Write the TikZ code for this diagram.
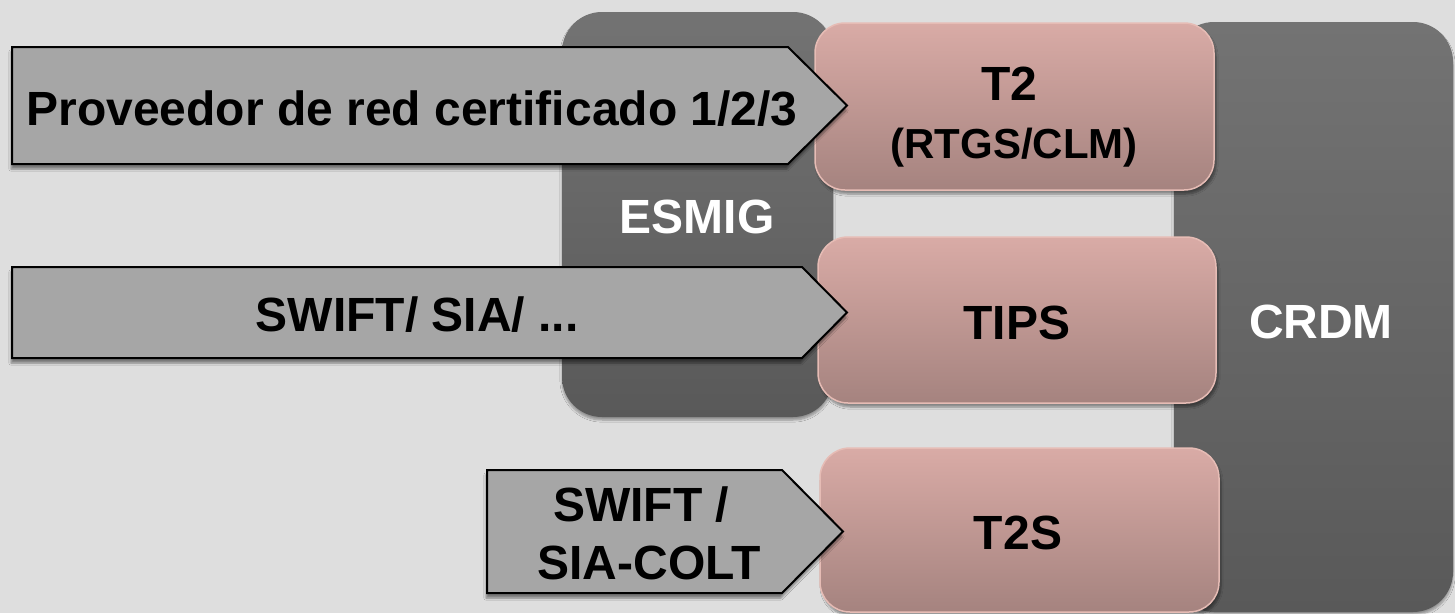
\documentclass[tikz,border=0pt]{standalone}
\usepackage{fontspec}
\setmainfont{Liberation Sans}
\usetikzlibrary{shadows.blur}
\definecolor{bgc}{HTML}{DEDEDE}
\definecolor{darktop}{HTML}{737373}
\definecolor{darkbot}{HTML}{595959}
\definecolor{pinktop}{HTML}{D9ABA6}
\definecolor{pinkbot}{HTML}{A5837F}
\definecolor{pinkline}{HTML}{E6BCB5}
\definecolor{arrowfill}{HTML}{A6A6A6}
\begin{document}
\begin{tikzpicture}[x=1pt,y=-1pt,
  bigfont/.style={font=\bfseries\fontsize{48}{58}\selectfont},
  darkbox/.style={rounded corners=40pt, top color=darktop, bottom color=darkbot, draw=none,
    inner sep=0pt, blur shadow={shadow xshift=0pt, shadow yshift=-3pt, shadow opacity=35, shadow blur steps=6}},
  pinkbox/.style={rounded corners=30pt, top color=pinktop, bottom color=pinkbot, draw=pinkline, line width=1.5pt,
    inner sep=0pt, blur shadow={shadow xshift=2pt, shadow yshift=-4pt, shadow opacity=40, shadow blur steps=6}},
  arrowshape/.style={fill=arrowfill, draw=black, line width=2pt, line join=miter,
    blur shadow={shadow xshift=-1pt, shadow yshift=-5pt, shadow opacity=45, shadow blur steps=6}},
  whitetext/.style={bigfont, text=white, inner sep=0pt, anchor=base},
  blacktext/.style={bigfont, text=black, inner sep=0pt, anchor=base}
]
\fill[bgc] (0,0) rectangle (1455,613);
\useasboundingbox (0,0) rectangle (1455,613);

% dark containers
\node[darkbox, minimum width=271pt, minimum height=405pt] (esmig) at (697.5,214.5) {};
\node[darkbox, minimum width=279pt, minimum height=590pt] (crdm) at (1313.5,317) {};
\node[whitetext] (esmiglabel) at (697,233) {ESMIG};
\node[whitetext] (crdmlabel) at (1321,338) {CRDM};

% pink service boxes
\node[pinkbox, minimum width=399pt, minimum height=167pt] (t2) at (1014.5,106.5) {};
\node[pinkbox, minimum width=398pt, minimum height=166pt] (tips) at (1017,320) {};
\node[pinkbox, minimum width=399pt, minimum height=164pt] (t2s) at (1019.5,530) {};
\node[blacktext] (t2label) at (1009,100) {T2};
\node[blacktext, font=\bfseries\fontsize{42}{50}\selectfont] (t2sub) at (1014,158) {(RTGS/CLM)};
\node[blacktext] (tipslabel) at (1017,339) {TIPS};
\node[blacktext] (t2slabel) at (1018,549) {T2S};

% network arrows
\draw[arrowshape] (12,47) -- (788,47) -- (847,105.5) -- (788,164) -- (12,164) -- cycle;
\draw[arrowshape] (12,267) -- (802,267) -- (847,312.5) -- (802,358) -- (12,358) -- cycle;
\draw[arrowshape] (487,470) -- (782,470) -- (843,531.5) -- (782,593) -- (487,593) -- cycle;
\node[blacktext] (prov) at (412,125) {Proveedor de red certificado 1/2/3};
\node[blacktext] (swift) at (417,331) {SWIFT/ SIA/ ...};
\node[blacktext] (swifta) at (641,521) {SWIFT /};
\node[blacktext] (swiftb) at (649,579) {SIA-COLT};
\end{tikzpicture}
\end{document}
